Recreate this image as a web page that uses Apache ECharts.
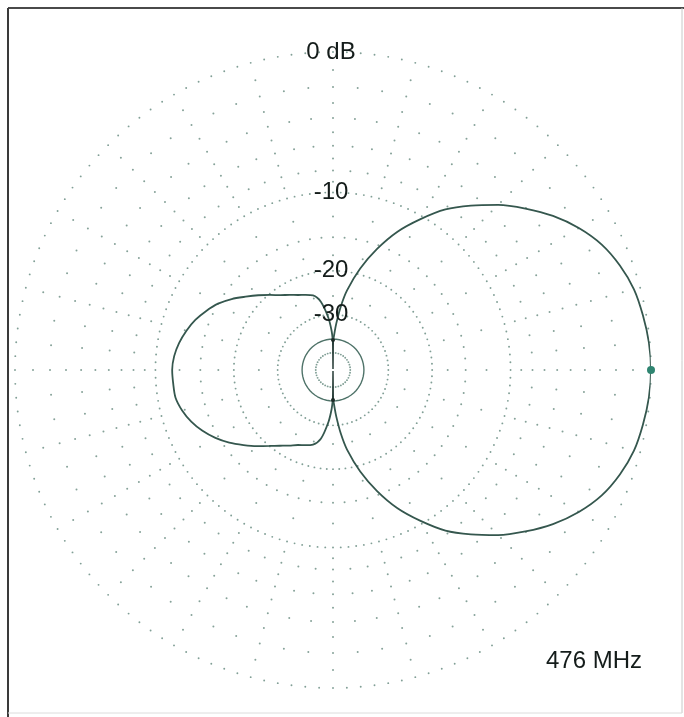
<!DOCTYPE html>
<html>
<head>
<meta charset="utf-8">
<script src="https://cdn.jsdelivr.net/npm/echarts@6/dist/echarts.min.js"></script>
<style>
  html, body { margin: 0; padding: 0; background: #ffffff; }
  #chart { width: 684px; height: 717px; }
</style>
</head>
<body>
<div id="chart"></div>
<script>
// ---- Data ----
// Grid rings (dB), ARRL log scale
const ringMajor = [0, -10, -20, -30, -50];
const ringSolid = [-40];
const ringMinor = [-1, -2, -3, -4, -5, -6, -7, -8, -9, -12.5, -15, -17.5, -25];
const ringMinorOnMinorSpokes = [-2, -4, -6, -8, -15];
// Ring labels
const labelDb = [0, -10, -20, -30];
const labelText = ['0 dB', '-10', '-20', '-30'];
const freqLabel = '476 MHz';

// Pattern: angle (deg, CCW from right) and gain (dB); -100 marks a deep null
const patternAngles = [
  0, 5, 10, 15, 20, 25, 30, 35, 40, 45, 50, 55, 60, 65, 70, 75, 80, 83, 86, 88, 89.5,
  90,
  90.5, 92, 95, 100, 105, 110, 115, 120, 125, 130, 135, 140, 145, 150, 155, 160, 165, 170, 175, 180,
  185, 190, 195, 200, 205, 210, 215, 220, 225, 230, 235, 240, 245, 250, 255, 260, 265, 268, 269.5,
  270,
  270.5, 272, 274, 277, 280, 285, 290, 295, 300, 305, 310, 315, 320, 325, 330, 335, 340, 345, 350, 355
];
const patternDb = [
  0, -0.05, -0.18, -0.35, -0.7, -1.2, -1.95, -2.9, -4.05, -5.3, -6.75, -8.3, -10.35, -12.6, -15.5, -19.0, -23.5, -27.5, -33, -37.5, -40.5,
  -100,
  -40.5, -36, -31, -26.2, -24.3, -23.7, -23.1, -22.3, -21.4, -20.2, -18.9, -17.6, -16.2, -15.0, -14.1, -13.3, -12.7, -12.2, -11.85, -11.7,
  -11.75, -11.8, -12.2, -12.8, -13.6, -14.6, -15.8, -17.2, -18.6, -20.0, -21.2, -22.2, -23.1, -23.7, -24.3, -26.0, -31, -36, -40.5,
  -100,
  -40.5, -37.5, -33, -27.5, -23.5, -19.0, -15.5, -12.6, -10.35, -8.3, -6.75, -5.3, -4.05, -2.9, -1.95, -1.2, -0.7, -0.35, -0.18, -0.05
];
const peakAngle = [0];
const peakDb = [0];
const junctionAngle = [90, 270];
const junctionDb = [-40.5, -40.5];

// ---- Scale: ARRL log-periodic (0.89 per 2 dB) ----
function toR(db) { return Math.pow(0.89, -db / 2); }

// ---- Grid construction ----
const majorStep = { '0': 2.5, '-10': 2.5, '-20': 3.6, '-30': 5, '-50': 9 };
const majorDots = [];
ringMajor.forEach(db => {
  const st = majorStep[String(db)];
  for (let a = 0; a < 360 - 1e-6; a += st) majorDots.push([toR(db), a]);
});
const minorDots = [];
for (let a = 0; a < 360; a += 5) {
  const levels = (a % 15 === 0) ? ringMinor : ringMinorOnMinorSpokes;
  levels.forEach(db => minorDots.push([toR(db), a]));
}
const solidRing = [];
for (let a = 0; a <= 360; a += 3) solidRing.push([toR(ringSolid[0]), a]);

// ---- Pattern split into lobes (smooth) and null segments (straight) ----
const pts = patternAngles.map((a, i) => [toR(patternDb[i]), a]);
const nullIdx = [];
patternDb.forEach((d, i) => { if (d <= -100) nullIdx.push(i); });
const n1 = nullIdx[0], n2 = nullIdx[1];
const mainLobe = pts.slice(n2 + 1).concat(pts.slice(0, n1));
const backLobe = pts.slice(n1 + 1, n2);
const nullSeg1 = pts.slice(n1 - 1, n1 + 2);
const nullSeg2 = pts.slice(n2 - 1, n2 + 2);

const peakData = peakAngle.map((a, i) => [toR(peakDb[i]), a]);
const junctionData = junctionAngle.map((a, i) => [toR(junctionDb[i]), a]);
const labelData = labelDb.map((d, i) => ({ value: [toR(d), 90], name: labelText[i] }));

const chart = echarts.init(document.getElementById('chart'), null, { renderer: 'canvas' });
const FONT = '"Liberation Sans", Arial, sans-serif';
const LINE = { color: '#35574e', width: 1.8 };
const TXT = '#141c1a';
chart.setOption({
  animation: false,
  backgroundColor: '#ffffff',
  polar: { center: [333, 370], radius: 318 },
  angleAxis: {
    type: 'value', min: 0, max: 360, startAngle: 0, clockwise: false,
    axisLine: { show: false }, axisTick: { show: false }, axisLabel: { show: false }, splitLine: { show: false }
  },
  radiusAxis: {
    type: 'value', min: 0, max: 1,
    axisLine: { show: false }, axisTick: { show: false }, axisLabel: { show: false }, splitLine: { show: false }
  },
  graphic: [
    { type: 'line', shape: { x1: 8, y1: 8, x2: 684, y2: 8 }, style: { stroke: '#4a4a4a', lineWidth: 2 } },
    { type: 'line', shape: { x1: 8, y1: 8, x2: 8, y2: 717 }, style: { stroke: '#3a3a3a', lineWidth: 2 } },
    { type: 'line', shape: { x1: 682, y1: 8, x2: 682, y2: 713 }, style: { stroke: '#c8c8c8', lineWidth: 1 } },
    { type: 'line', shape: { x1: 8, y1: 713, x2: 682, y2: 713 }, style: { stroke: '#dcdcdc', lineWidth: 1 } },
    { type: 'text', left: 546, top: 649, style: { text: freqLabel, fill: TXT, font: '24px ' + FONT } }
  ],
  series: [
    { type: 'scatter', coordinateSystem: 'polar', data: minorDots, symbolSize: 2,
      itemStyle: { color: '#86a299', opacity: 1 }, silent: true, z: 1 },
    { type: 'scatter', coordinateSystem: 'polar', data: majorDots, symbolSize: 1.9,
      itemStyle: { color: '#819f96', opacity: 1 }, silent: true, z: 1 },
    { type: 'line', coordinateSystem: 'polar', data: solidRing, showSymbol: false,
      lineStyle: { color: '#4f7369', width: 1.4 }, silent: true, z: 2 },
    { type: 'line', coordinateSystem: 'polar', data: mainLobe, showSymbol: false, smooth: 0.3,
      lineStyle: LINE, silent: true, z: 3 },
    { type: 'line', coordinateSystem: 'polar', data: backLobe, showSymbol: false, smooth: 0.3,
      lineStyle: LINE, silent: true, z: 3 },
    { type: 'line', coordinateSystem: 'polar', data: nullSeg1, showSymbol: false,
      lineStyle: { color: '#2a3f3a', width: 1.5 }, silent: true, z: 3 },
    { type: 'line', coordinateSystem: 'polar', data: nullSeg2, showSymbol: false,
      lineStyle: { color: '#2a3f3a', width: 1.5 }, silent: true, z: 3 },
    { type: 'scatter', coordinateSystem: 'polar', data: junctionData, symbolSize: 4,
      itemStyle: { color: '#1c2a26', opacity: 1 }, silent: true, z: 4 },
    { type: 'scatter', coordinateSystem: 'polar', data: peakData, symbolSize: 8,
      itemStyle: { color: '#2f8571', opacity: 1 }, silent: true, z: 4 },
    { type: 'scatter', coordinateSystem: 'polar', data: labelData, symbolSize: 1,
      itemStyle: { color: 'rgba(0,0,0,0)', opacity: 1 }, silent: true, z: 5,
      label: { show: true, position: 'inside', offset: [-2, 0], formatter: p => p.name,
        color: TXT, fontSize: 24, fontFamily: FONT, textBorderWidth: 0, opacity: 1 } }
  ]
});
</script>
</body>
</html>
